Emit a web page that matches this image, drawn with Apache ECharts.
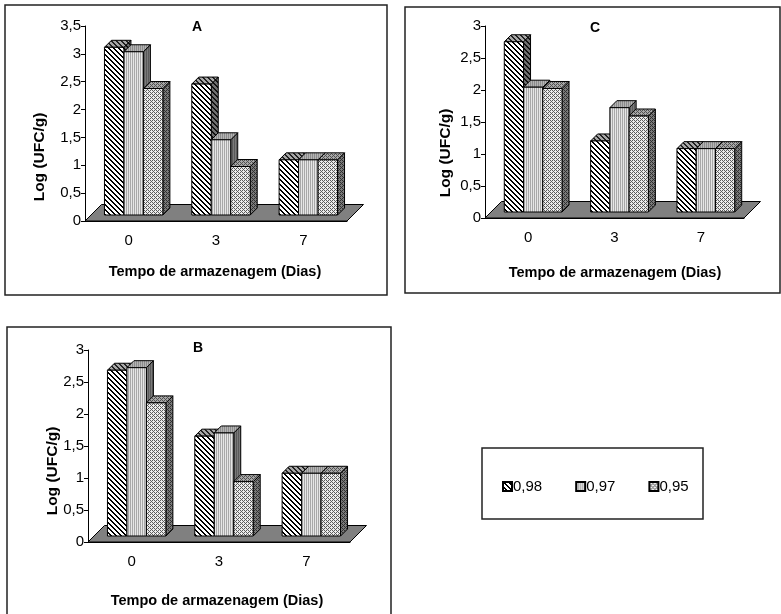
<!DOCTYPE html>
<html>
<head>
<meta charset="utf-8">
<script src="https://cdn.jsdelivr.net/npm/echarts/dist/echarts.min.js"></script>
<style>
  html, body { margin: 0; padding: 0; background: #fff; }
  #chart { width: 781px; height: 614px; }
</style>
</head>
<body>
<div id="chart"></div>
<script>
  const days = ['0', '3', '7']
  const seriesNames = ['0,98', '0,97', '0,95']

  // painel A
  const a098 = [3.01, 2.35, 0.99]
  const a097 = [2.93, 1.35, 0.99]
  const a095 = [2.27, 0.87, 0.99]
  // painel B
  const b098 = [2.59, 1.56, 0.98]
  const b097 = [2.63, 1.61, 0.98]
  const b095 = [2.08, 0.85, 0.98]
  // painel C
  const c098 = [2.66, 1.11, 0.99]
  const c097 = [1.95, 1.63, 0.99]
  const c095 = [1.93, 1.50, 0.99]

  const yTicksA = ['0', '0,5', '1', '1,5', '2', '2,5', '3', '3,5']
  const yTicksBC = ['0', '0,5', '1', '1,5', '2', '2,5', '3']

  const FONT = '"Liberation Sans", Arial, sans-serif'
  const DX = 5, DY = 6      // deslocamento da face frontal das barras
  const DEPTH = 7           // profundidade das barras
  const FLOOR = 16.5        // profundidade do piso

  function makePattern(size, draw) {
    const c = document.createElement('canvas')
    c.width = size
    c.height = size
    draw(c.getContext('2d'), size)
    return { image: c, repeat: 'repeat' }
  }
  function hatch(bg, fg) {
    return makePattern(5, (ctx, n) => {
      ctx.fillStyle = bg
      ctx.fillRect(0, 0, n, n)
      ctx.fillStyle = fg
      for (let x = 0; x < n; x++) {
        for (let y = 0; y < n; y++) {
          const m = ((x - y) % n + n) % n
          if (m === 0 || m === 1) ctx.fillRect(x, y, 1, 1)
        }
      }
    })
  }
  function stripes(c1, c2) {
    return makePattern(2, (ctx) => {
      ctx.fillStyle = c1
      ctx.fillRect(0, 0, 1, 2)
      ctx.fillStyle = c2
      ctx.fillRect(1, 0, 1, 2)
    })
  }
  // trama pontilhada ondulada
  const dotMap = ['1010', '0001', '1010', '0100']
  function dotted(dark, light) {
    return makePattern(4, (ctx) => {
      ctx.fillStyle = light
      ctx.fillRect(0, 0, 4, 4)
      ctx.fillStyle = dark
      dotMap.forEach((row, y) => {
        for (let x = 0; x < 4; x++) if (row[x] === '1') ctx.fillRect(x, y, 1, 1)
      })
    })
  }

  const fills = [
    { front: hatch('#ffffff', '#000000'), top: hatch('#a8a8a8', '#222222'), side: hatch('#707070', '#111111') },
    { front: stripes('#a8a8a8', '#e6e6e6'), top: stripes('#8c8c8c', '#b4b4b4'), side: stripes('#5a5a5a', '#7a7a7a') },
    { front: dotted('#5c5c5c', '#ececec'), top: dotted('#505050', '#a8a8a8'), side: dotted('#303030', '#7a7a7a') }
  ]

  function barRender(k) {
    const f = fills[k]
    return function (params, api) {
      const cat = api.value(0)
      const band = api.size([1, 0])[0]
      const w = band * 0.223
      const base = api.coord([cat, 0])
      const top = api.coord([cat, api.value(1)])
      const x0 = base[0] - 1.5 * w + k * w + DX
      const x1 = x0 + w
      const yb = base[1] - DY
      const yt = top[1] - DY
      const d = DEPTH
      const line = { stroke: '#000', lineWidth: 1 }
      return {
        type: 'group',
        children: [
          { type: 'polygon', shape: { points: [[x1, yt], [x1 + d, yt - d], [x1 + d, yb - d], [x1, yb]] },
            style: Object.assign({ fill: f.side }, line) },
          { type: 'polygon', shape: { points: [[x0, yt], [x1, yt], [x1 + d, yt - d], [x0 + d, yt - d]] },
            style: Object.assign({ fill: f.top }, line) },
          { type: 'rect', shape: { x: x0, y: yt, width: w, height: yb - yt },
            style: Object.assign({ fill: f.front }, line) }
        ]
      }
    }
  }

  function floorRender(params, api) {
    const band = api.size([1, 0])[0]
    const l = api.coord([0, 0])
    const r = api.coord([days.length - 1, 0])
    const xl = l[0] - band / 2
    const xr = r[0] + band / 2
    const y = l[1]
    return {
      type: 'polygon',
      shape: { points: [[xl, y], [xr, y], [xr + FLOOR, y - FLOOR], [xl + FLOOR, y - FLOOR]] },
      style: { fill: '#808080', stroke: '#000', lineWidth: 1 }
    }
  }

  const grids = [
    { left: 85, top: 26, width: 262, height: 195 },   // A
    { left: 485, top: 26, width: 259, height: 192 },  // C
    { left: 88, top: 350, width: 262, height: 192 }   // B
  ]
  const panelVals = [
    [a098, a097, a095],
    [c098, c097, c095],
    [b098, b097, b095]
  ]
  const panelTicks = [yTicksA, yTicksBC, yTicksBC]
  const panelMax = [3.5, 3, 3]

  const xAxes = grids.map((g, i) => ({
    gridIndex: i,
    type: 'category',
    data: days,
    boundaryGap: true,
    axisLine: { lineStyle: { color: '#000', width: 1 } },
    axisTick: { length: 5, lineStyle: { color: '#000' } },
    axisLabel: { color: '#000', fontSize: 15, margin: 12, fontFamily: FONT },
    splitLine: { show: false }
  }))
  const yAxes = grids.map((g, i) => ({
    gridIndex: i,
    type: 'value',
    min: 0,
    max: panelMax[i],
    interval: 0.5,
    axisLine: { show: true, lineStyle: { color: '#000', width: 1 } },
    axisTick: { show: true, length: 4, lineStyle: { color: '#000' } },
    axisLabel: { color: '#000', fontSize: 15, margin: 4, fontFamily: FONT,
      formatter: v => panelTicks[i][Math.round(v * 2)] },
    splitLine: { show: false }
  }))

  const series = []
  grids.forEach((g, i) => {
    series.push({
      name: 'piso',
      type: 'custom',
      xAxisIndex: i,
      yAxisIndex: i,
      renderItem: floorRender,
      data: [[0, 0]],
      z: 1,
      silent: true
    })
    panelVals[i].forEach((vals, k) => {
      series.push({
        name: seriesNames[k],
        type: 'custom',
        xAxisIndex: i,
        yAxisIndex: i,
        renderItem: barRender(k),
        itemStyle: { color: fills[k].front, borderColor: '#000', borderWidth: 1 },
        encode: { x: 0, y: 1 },
        data: vals.map((v, c) => [c, v]),
        z: 2
      })
    })
  })

  function label(text, x, y, size, opts) {
    return Object.assign({
      type: 'text',
      x: x,
      y: y,
      style: {
        text: text,
        font: 'bold ' + size + 'px ' + FONT,
        fill: '#000',
        align: 'center',
        verticalAlign: 'middle',
        textAlign: 'center',
        textVerticalAlign: 'middle'
      }
    }, opts || {})
  }
  function box(x, y, w, h) {
    return {
      type: 'rect',
      shape: { x: x, y: y, width: w, height: h },
      style: { fill: 'none', stroke: '#222', lineWidth: 1.5 },
      silent: true
    }
  }
  const vert = { rotation: Math.PI / 2 }

  const chart = echarts.init(document.getElementById('chart'), null, { renderer: 'canvas' })
  chart.setOption({
    animation: false,
    backgroundColor: '#fff',
    grid: grids,
    xAxis: xAxes,
    yAxis: yAxes,
    legend: {
      data: seriesNames,
      left: 497,
      top: 474,
      icon: 'rect',
      itemWidth: 9,
      itemHeight: 9,
      itemGap: 33,
      selectedMode: false,
      textStyle: { fontSize: 15, color: '#000', fontFamily: FONT, padding: [0, 0, 0, -4] }
    },
    graphic: [
      box(5, 5, 382, 290),
      box(405, 7, 375, 286),
      box(7, 327, 384, 300),
      box(482, 448, 221, 71),
      label('A', 197, 27, 14),
      label('C', 595, 28, 14),
      label('B', 198, 348, 14),
      label('Log (UFC/g)', 40, 157, 15.5, vert),
      label('Log (UFC/g)', 446, 153, 15.5, vert),
      label('Log (UFC/g)', 53, 471, 15.5, vert),
      label('Tempo de armazenagem (Dias)', 215, 272, 14.5),
      label('Tempo de armazenagem (Dias)', 615, 273, 14.5),
      label('Tempo de armazenagem (Dias)', 217, 601, 14.5)
    ],
    series: series
  })
</script>
</body>
</html>
